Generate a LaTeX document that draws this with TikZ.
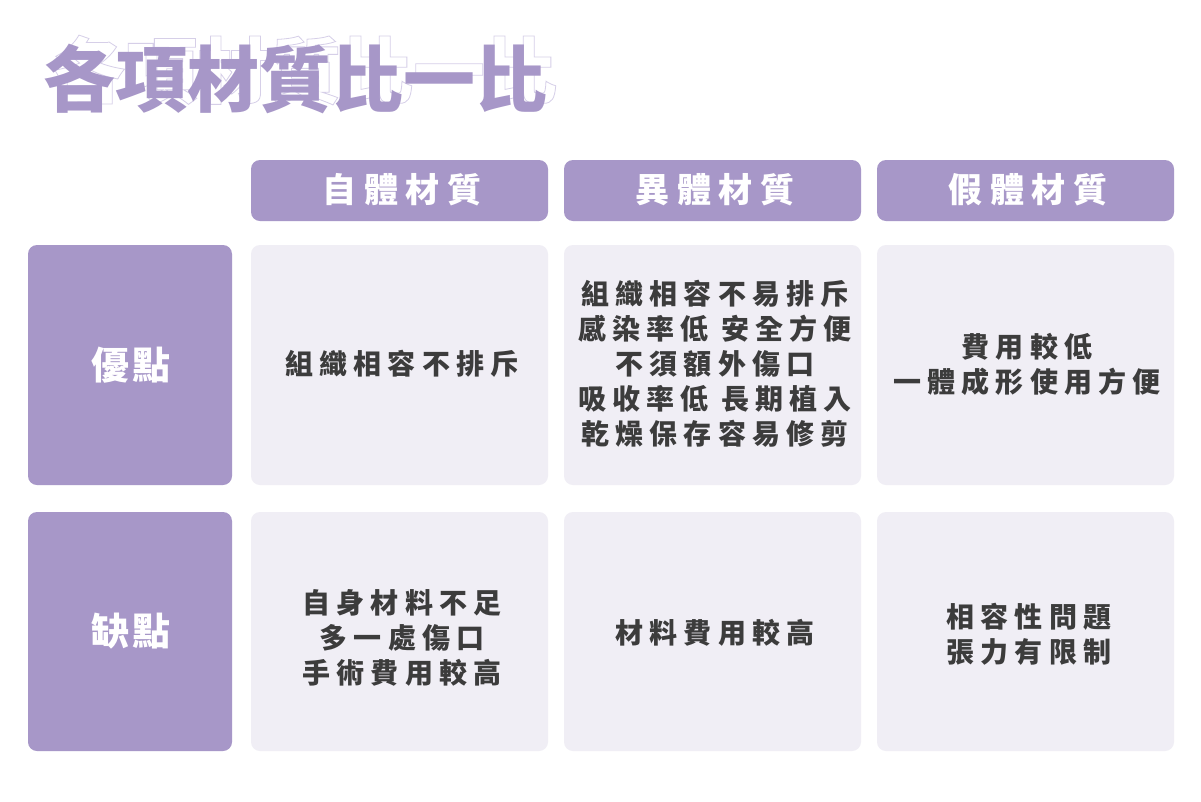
\documentclass[tikz,border=0pt]{standalone}
\usepackage{fontspec}
\newfontfamily\cjk{Noto Sans CJK TC}
\newfontfamily\cjks{Noto Sans CJK TC}[LetterSpace=22]
\newfontfamily\cjkh{Noto Sans CJK TC}[LetterSpace=22]
\newfontfamily\cjkr{Noto Sans CJK TC}[LetterSpace=10]
\definecolor{pur}{HTML}{A797C8}
\definecolor{cellc}{HTML}{F0EEF5}
\definecolor{txt}{HTML}{3C3C3C}
\begin{document}
\begin{tikzpicture}[x=1pt,y=-1pt,
  hbox/.style={fill=pur,rounded corners=9pt},
  cbox/.style={fill=cellc,rounded corners=9pt},
  ht/.style={text=white,font=\cjkh\bfseries\fontsize{34}{36}\selectfont},
  rt/.style={text=white,font=\cjkr\bfseries\fontsize{38}{40}\selectfont},
  ct/.style={text=txt,align=center,font=\cjks\bfseries\fontsize{28}{35}\selectfont}]
\useasboundingbox (0,0) rectangle (1201,801);
\fill[white] (0,0) rectangle (1201,801);
% title
\node[anchor=west,inner sep=0pt,font=\cjk\bfseries\fontsize{72}{80}\selectfont,text=white] (tshadow) at (53,70) {\special{pdf:literal 0.84 0.81 0.91 RG 1 Tr 0.8 w}各項材質比一比\special{pdf:literal 0 Tr}};
\node[anchor=west,inner sep=0pt,font=\cjk\bfseries\fontsize{72}{80}\selectfont,text=pur] (title) at (43,79) {各項材質比一比};
% headers
\foreach \n/\x/\t in {h1/251/自體材質,h2/564/異體材質,h3/877/假體材質}{
  \path[hbox] (\x,160) rectangle ++(297,61);
  \node[ht] (\n) at (\x+151,190) {\t};
}
% row labels
\path[hbox] (28,245) rectangle (232,485);
\node[rt] (r1) at (131,365) {優點};
\path[hbox] (28,512) rectangle (232,751);
\node[rt] (r2) at (131,631) {缺點};
% cells
\foreach \x in {251,564,877}{
  \path[cbox] (\x,245) rectangle ++(297,240);
  \path[cbox] (\x,512) rectangle ++(297,239);
}
\node[ct] (c11) at (402,364) {組織相容不排斥};
\node[ct] (c12) at (715,364) {組織相容不易排斥\\感染率低\ 安全方便\\不須額外傷口\\吸收率低\ 長期植入\\乾燥保存容易修剪};
\node[ct] (c13) at (1027,364) {費用較低\\一體成形使用方便};
\node[ct] (c21) at (402,638) {自身材料不足\\多一處傷口\\手術費用較高};
\node[ct] (c22) at (715,633) {材料費用較高};
\node[ct] (c23) at (1029,634) {相容性問題\\張力有限制};
\end{tikzpicture}
\end{document}
